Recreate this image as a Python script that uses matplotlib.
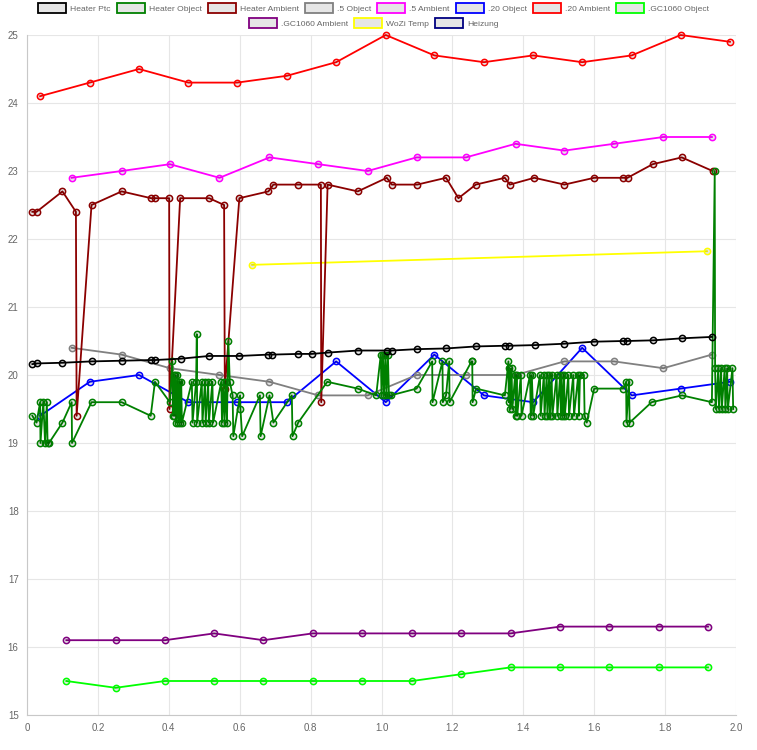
import matplotlib
matplotlib.use("Agg")
import matplotlib.pyplot as plt
from matplotlib.patches import Patch

plt.rcParams['font.family'] = ['Liberation Sans', 'DejaVu Sans']

# Heater Ptc
ptc_x = [0.015, 0.027, 0.100, 0.182, 0.267, 0.350, 0.361, 0.434, 0.514, 0.599, 0.681,
         0.692, 0.765, 0.803, 0.850, 0.933, 1.015, 1.029, 1.099, 1.181, 1.266, 1.348,
         1.360, 1.433, 1.516, 1.600, 1.682, 1.693, 1.767, 1.849, 1.932]
ptc_y = [20.16, 20.17, 20.18, 20.20, 20.21, 20.22, 20.22, 20.24, 20.28, 20.28, 20.30,
         20.30, 20.31, 20.31, 20.33, 20.36, 20.36, 20.36, 20.38, 20.39, 20.42, 20.43,
         20.43, 20.44, 20.46, 20.49, 20.50, 20.50, 20.51, 20.54, 20.56]

# Heater Object
obj_x = [0.015, 0.027, 0.037, 0.038, 0.046, 0.051, 0.056, 0.058, 0.062, 0.100, 0.126,
         0.127, 0.182, 0.267, 0.349, 0.361, 0.403, 0.410, 0.412, 0.414, 0.416, 0.418,
         0.421, 0.424, 0.427, 0.430, 0.432, 0.435, 0.437, 0.465, 0.467, 0.477, 0.479,
         0.480, 0.493, 0.495, 0.502, 0.504, 0.511, 0.513, 0.523, 0.525, 0.548, 0.550,
         0.555, 0.557, 0.562, 0.564, 0.568, 0.572, 0.580, 0.582, 0.601, 0.602, 0.607,
         0.657, 0.659, 0.684, 0.695, 0.747, 0.749, 0.765, 0.847, 0.933, 0.985, 0.998,
         1.000, 1.004, 1.007, 1.011, 1.014, 1.018, 1.021, 1.026, 1.099, 1.143, 1.144,
         1.172, 1.173, 1.182, 1.191, 1.192, 1.254, 1.256, 1.257, 1.267, 1.348, 1.358,
         1.359, 1.361, 1.363, 1.367, 1.369, 1.377, 1.379, 1.381, 1.383, 1.393, 1.395,
         1.419, 1.421, 1.424, 1.428, 1.447, 1.449, 1.458, 1.460, 1.466, 1.468, 1.473,
         1.475, 1.480, 1.482, 1.494, 1.496, 1.504, 1.506, 1.508, 1.512, 1.515, 1.517,
         1.527, 1.529, 1.541, 1.543, 1.555, 1.557, 1.560, 1.571, 1.573, 1.579, 1.600,
         1.682, 1.690, 1.691, 1.698, 1.700, 1.762, 1.848, 1.932, 1.940, 1.941, 1.943,
         1.950, 1.952, 1.958, 1.960, 1.968, 1.970, 1.975, 1.977, 1.990, 1.992]
obj_y = [19.4, 19.3, 19.6, 19.0, 19.6, 19.0, 19.6, 19.0, 19.0, 19.3, 19.6,
         19.0, 19.6, 19.6, 19.4, 19.9, 19.6, 20.2, 19.4, 20.0, 19.4, 20.0,
         19.3, 20.0, 19.3, 19.9, 19.3, 19.9, 19.3, 19.9, 19.3, 19.9, 20.6,
         19.3, 19.9, 19.3, 19.9, 19.3, 19.9, 19.3, 19.9, 19.3, 19.9, 19.3,
         19.9, 19.3, 19.9, 19.3, 20.5, 19.9, 19.7, 19.1, 19.7, 19.5, 19.1,
         19.7, 19.1, 19.7, 19.3, 19.7, 19.1, 19.3, 19.9, 19.8, 19.7, 20.3,
         19.7, 20.3, 19.7, 20.3, 19.7, 20.3, 19.7, 19.7, 19.8, 20.2, 19.6,
         20.2, 19.6, 19.7, 20.2, 19.6, 20.2, 20.2, 19.6, 19.8, 19.7, 20.2,
         19.6, 20.1, 19.5, 20.1, 19.5, 20.0, 19.4, 20.0, 19.4, 20.0, 19.4,
         20.0, 19.4, 20.0, 19.4, 20.0, 19.4, 20.0, 19.4, 20.0, 19.4, 20.0,
         19.4, 20.0, 19.4, 20.0, 19.4, 20.0, 19.4, 20.0, 19.4, 20.0, 19.4,
         20.0, 19.4, 20.0, 19.4, 20.0, 19.4, 20.0, 20.0, 19.4, 19.3, 19.8,
         19.8, 19.9, 19.3, 19.9, 19.3, 19.6, 19.7, 19.6, 23.0, 20.1, 19.5,
         20.1, 19.5, 20.1, 19.5, 20.1, 19.5, 20.1, 19.5, 20.1, 19.5]

# Heater Ambient
amb_x = [0.015, 0.027, 0.100, 0.138, 0.140, 0.182, 0.267, 0.350, 0.361, 0.401, 0.402,
         0.432, 0.514, 0.556, 0.558, 0.599, 0.681, 0.695, 0.765, 0.829, 0.830, 0.848,
         0.933, 1.015, 1.029, 1.101, 1.182, 1.217, 1.266, 1.348, 1.362, 1.431, 1.516,
         1.600, 1.680, 1.694, 1.765, 1.847, 1.934]
amb_y = [22.4, 22.4, 22.7, 22.4, 19.4, 22.5, 22.7, 22.6, 22.6, 22.6, 19.5,
         22.6, 22.6, 22.5, 19.8, 22.6, 22.7, 22.8, 22.8, 22.8, 19.6, 22.8,
         22.7, 22.9, 22.8, 22.8, 22.9, 22.6, 22.8, 22.9, 22.8, 22.9, 22.8,
         22.9, 22.9, 22.9, 23.1, 23.2, 23.0]

# .5 sensor
s5_x = [0.126, 0.267, 0.403, 0.543, 0.684, 0.822, 0.961, 1.099, 1.238, 1.378, 1.516,
        1.656, 1.795, 1.932]
s5_obj = [20.4, 20.3, 20.1, 20.0, 19.9, 19.7, 19.7, 20.0, 20.0, 20.0, 20.2, 20.2, 20.1, 20.3]
s5_amb = [22.9, 23.0, 23.1, 22.9, 23.2, 23.1, 23.0, 23.2, 23.2, 23.4, 23.3, 23.4, 23.5, 23.5]

# .20 sensor
s20_x = [0.037, 0.177, 0.316, 0.455, 0.593, 0.733, 0.872, 1.012, 1.149, 1.289, 1.428,
         1.566, 1.706, 1.844, 1.983]
s20_obj = [19.4, 19.9, 20.0, 19.6, 19.6, 19.6, 20.2, 19.6, 20.3, 19.7, 19.6, 20.4, 19.7, 19.8, 19.9]
s20_amb = [24.1, 24.3, 24.5, 24.3, 24.3, 24.4, 24.6, 25.0, 24.7, 24.6, 24.7, 24.6, 24.7, 25.0, 24.9]

# .GC1060 sensor
gc_x = [0.111, 0.250, 0.389, 0.528, 0.667, 0.806, 0.946, 1.086, 1.225, 1.364, 1.504,
        1.643, 1.782, 1.921]
gc_obj = [15.5, 15.4, 15.5, 15.5, 15.5, 15.5, 15.5, 15.5, 15.6, 15.7, 15.7, 15.7, 15.7, 15.7]
gc_amb = [16.1, 16.1, 16.1, 16.2, 16.1, 16.2, 16.2, 16.2, 16.2, 16.2, 16.3, 16.3, 16.3, 16.3]

# WoZi Temp
wozi_x = [0.635, 1.918]
wozi_y = [21.62, 21.82]

labels = ['Heater Ptc', 'Heater Object', 'Heater Ambient', '.5 Object', '.5 Ambient',
          '.20 Object', '.20 Ambient', '.GC1060 Object', '.GC1060 Ambient', 'WoZi Temp',
          'Heizung']
colors = ['black', 'green', 'darkred', 'grey', 'magenta', 'blue', 'red', 'lime',
          'purple', 'yellow', 'navy']
series = [(ptc_x, ptc_y), (obj_x, obj_y), (amb_x, amb_y), (s5_x, s5_obj), (s5_x, s5_amb),
          (s20_x, s20_obj), (s20_x, s20_amb), (gc_x, gc_obj), (gc_x, gc_amb),
          (wozi_x, wozi_y), ([], [])]

fig = plt.figure(figsize=(7.57, 7.5), dpi=100)
ax = fig.add_axes([27/757, 35/750, (736-27)/757, (715-35)/750])

for i, ((xs, ys), c) in enumerate(zip(series, colors)):
    ax.plot(xs, ys, color=c, lw=1.3, marker='o', ms=4.5, mec=c, mew=1.1,
            mfc=(0, 0, 0, 0.1), zorder=30 - i, clip_on=False)

ax.set_xlim(0, 2.0)
ax.set_ylim(15, 25)
ax.set_xticks([0, 0.2, 0.4, 0.6, 0.8, 1.0, 1.2, 1.4, 1.6, 1.8, 2.0])
ax.set_xticklabels(['0', '0.2', '0.4', '0.6', '0.8', '1.0', '1.2', '1.4', '1.6', '1.8', '2.0'])
ax.set_yticks(range(15, 26))
ax.grid(True, color='#e6e6e6', lw=0.8, zorder=0)
ax.set_axisbelow(True)
for side in ['top', 'right']:
    ax.spines[side].set_visible(False)
for side in ['left', 'bottom']:
    ax.spines[side].set_color('#c8c8c8')
ax.tick_params(length=0, labelsize=7, colors='#666666', pad=6)

handles = [Patch(facecolor='#e6e6e6', edgecolor=c, lw=1.3) for c in colors]
leg_kw = dict(frameon=False, fontsize=6.1, handlelength=3.3, handleheight=1.4,
              handletextpad=0.45, columnspacing=0.75, borderpad=0, borderaxespad=0,
              labelcolor='#666666')
fig.legend(handles[:8], labels[:8], loc='center', bbox_to_anchor=(373.5/757, 1 - 8/750),
           ncol=8, **leg_kw)
fig.legend(handles[8:], labels[8:], loc='center', bbox_to_anchor=(373.5/757, 1 - 23/750),
           ncol=3, **leg_kw)

fig.savefig('out.png', dpi=100)
